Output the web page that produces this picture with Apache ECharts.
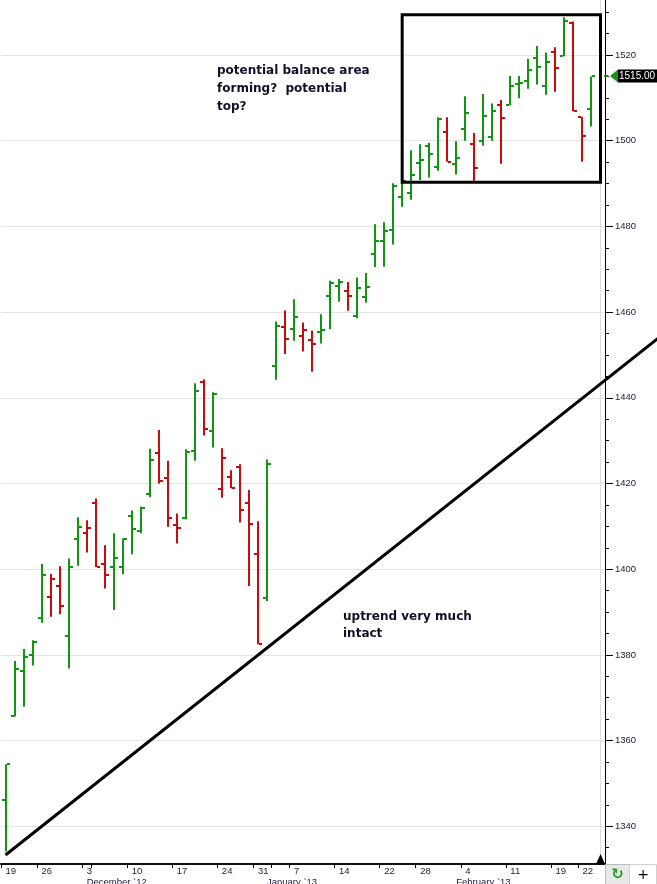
<!DOCTYPE html>
<html>
<head>
<meta charset="utf-8">
<title>ES daily bars</title>
<script src="https://cdn.jsdelivr.net/npm/echarts@6/dist/echarts.min.js"></script>
<style>
html, body { margin: 0; padding: 0; background: #fff; }
#chart { width: 657px; height: 884px; }
</style>
</head>
<body>
<div id="chart"></div>
<script>
// trading days shown on the chart, plus one empty slot on the right
var dates = [
    '2012-11-19','2012-11-20','2012-11-21','2012-11-23',
    '2012-11-26','2012-11-27','2012-11-28','2012-11-29','2012-11-30',
    '2012-12-03','2012-12-04','2012-12-05','2012-12-06','2012-12-07',
    '2012-12-10','2012-12-11','2012-12-12','2012-12-13','2012-12-14',
    '2012-12-17','2012-12-18','2012-12-19','2012-12-20','2012-12-21',
    '2012-12-24','2012-12-26','2012-12-27','2012-12-28',
    '2012-12-31','2013-01-02','2013-01-03','2013-01-04',
    '2013-01-07','2013-01-08','2013-01-09','2013-01-10','2013-01-11',
    '2013-01-14','2013-01-15','2013-01-16','2013-01-17','2013-01-18',
    '2013-01-22','2013-01-23','2013-01-24','2013-01-25',
    '2013-01-28','2013-01-29','2013-01-30','2013-01-31','2013-02-01',
    '2013-02-04','2013-02-05','2013-02-06','2013-02-07','2013-02-08',
    '2013-02-11','2013-02-12','2013-02-13','2013-02-14','2013-02-15',
    '2013-02-19','2013-02-20','2013-02-21','2013-02-22',
    '2013-02-25'
];
var futureSlots = ['2013-02-26'];

var opens = [
    1346.1, 1365.7, 1376.3, 1380.0, 1388.7, 1393.6, 1396.1, 1384.5, 1407.0, 1408.5,
    1415.4, 1401.2, 1400.6, 1400.4, 1412.3, 1408.8, 1417.6, 1427.2, 1421.4, 1410.4,
    1412.0, 1427.7, 1443.8, 1432.3, 1418.8, 1421.6, 1423.9, 1415.5, 1403.5, 1393.3,
    1447.4, 1456.6, 1456.1, 1454.5, 1453.5, 1455.3, 1463.8, 1466.2, 1465.0, 1459.2,
    1463.6, 1473.6, 1476.7, 1479.2, 1486.9, 1487.7, 1494.9, 1498.8, 1493.9, 1502.1,
    1494.6, 1502.7, 1499.3, 1500.0, 1500.9, 1508.4, 1508.3, 1513.2, 1514.0, 1519.4,
    1512.8, 1520.8, 1519.8, 1527.5, 1505.6, 1507.5
];
var highs = [
    1354.5, 1378.6, 1381.4, 1383.4, 1401.2, 1398.9, 1400.7, 1402.5, 1412.1, 1411.4,
    1416.5, 1405.6, 1408.4, 1407.2, 1413.7, 1414.6, 1428.1, 1432.5, 1425.3, 1413.0,
    1428.0, 1443.4, 1444.3, 1441.3, 1428.2, 1423.1, 1424.5, 1418.5, 1411.2, 1425.6,
    1457.8, 1460.4, 1463.0, 1457.6, 1455.7, 1459.5, 1467.3, 1467.7, 1467.0, 1468.1,
    1469.1, 1480.5, 1481.0, 1490.1, 1490.8, 1497.8, 1499.2, 1499.5, 1505.5, 1505.5,
    1499.9, 1510.4, 1501.8, 1510.9, 1508.7, 1509.5, 1515.1, 1515.1, 1519.1, 1522.1,
    1520.6, 1521.8, 1528.8, 1527.8, 1505.6, 1515.0
];
var lows = [
    1334.1, 1365.6, 1367.9, 1377.5, 1387.5, 1388.9, 1389.5, 1376.8, 1400.8, 1403.9,
    1400.5, 1395.5, 1390.5, 1398.8, 1403.5, 1408.4, 1416.8, 1420.0, 1409.9, 1406.0,
    1411.6, 1425.3, 1431.2, 1428.4, 1416.7, 1418.9, 1410.9, 1396.1, 1382.5, 1392.6,
    1444.2, 1450.2, 1453.3, 1450.8, 1446.1, 1452.7, 1456.0, 1462.4, 1460.3, 1458.6,
    1462.2, 1470.5, 1470.6, 1475.8, 1484.6, 1486.2, 1490.8, 1491.4, 1493.0, 1495.1,
    1492.1, 1500.0, 1490.4, 1498.8, 1500.0, 1494.6, 1508.3, 1509.9, 1512.1, 1513.1,
    1510.7, 1511.4, 1519.7, 1506.9, 1495.1, 1503.3
];
var closes = [
    1354.5, 1376.8, 1379.6, 1383.0, 1398.7, 1397.6, 1391.5, 1400.6, 1409.9, 1409.5,
    1400.5, 1398.6, 1402.5, 1407.0, 1409.3, 1414.2, 1425.6, 1420.7, 1412.0, 1409.7,
    1427.4, 1441.7, 1432.7, 1440.9, 1426.0, 1419.0, 1413.7, 1410.6, 1382.5, 1424.6,
    1456.8, 1453.7, 1458.9, 1455.8, 1452.6, 1455.8, 1466.9, 1467.1, 1463.8, 1465.7,
    1465.9, 1476.7, 1479.0, 1489.4, 1490.7, 1492.1, 1495.6, 1496.8, 1505.1, 1495.1,
    1496.0, 1506.5, 1493.7, 1505.8, 1507.0, 1505.4, 1512.8, 1513.5, 1516.5, 1517.3,
    1518.4, 1517.0, 1528.0, 1507.0, 1501.2, 1515.0
];

// bar indexes that carry a day label, and two extra unlabeled ticks
var labelDays = [0, 4, 9, 14, 19, 24, 28, 32, 37, 42, 46, 51, 56, 61, 64];
var extraTicks = [10, 30];
var monthNames = { '12': 'December `12', '01': 'January `13', '02': 'February `13' };

var priceLevels = [1340, 1360, 1380, 1400, 1420, 1440, 1460, 1480, 1500, 1520];
var minorLevels = [1335, 1340, 1345, 1350, 1355, 1360, 1365, 1370, 1375, 1380, 1385, 1390, 1395,
    1400, 1405, 1410, 1415, 1420, 1425, 1430, 1435, 1440, 1445, 1450, 1455, 1460, 1465, 1470,
    1475, 1480, 1485, 1490, 1495, 1500, 1505, 1510, 1515, 1520, 1525, 1530];
var yMin = 1331.2, yMax = 1532.84;

// drawn annotations, in [bar index, price]
var trendLine = [[0, 1333.3], [72.5, 1454.9]];
var balanceBox = [[43.57, 1529.4], [66.24, 1490.3]];
var nowIndex = 65.5;

var UP = '#129612', DOWN = '#c80c0c', NAVY = '#1c1c3a';
var categories = dates.concat(futureSlots);

var monthStart = {};
for (var m = 1; m < dates.length; m++) {
    if (dates[m].slice(5, 7) != dates[m - 1].slice(5, 7)) monthStart[m] = monthNames[dates[m].slice(5, 7)];
}

var bars = [];
for (var i = 0; i < dates.length; i++) {
    var up = (i == 0 || closes[i] >= closes[i - 1]) ? 1 : 0;
    bars.push([i, opens[i], closes[i], lows[i], highs[i], up]);
}

function renderBar(params, api) {
    var idx = api.value(0);
    var x = Math.round(api.coord([idx, yMin])[0]);
    var yo = Math.round(api.coord([idx, api.value(1)])[1]);
    var yc = Math.round(api.coord([idx, api.value(2)])[1]);
    var yl = api.coord([idx, api.value(3)])[1];
    var yh = api.coord([idx, api.value(4)])[1];
    var color = api.value(5) ? UP : DOWN;
    return {
        type: 'group',
        children: [
            { type: 'rect', shape: { x: x - 1, y: yh, width: 2, height: Math.max(yl - yh, 1) }, style: { fill: color } },
            { type: 'rect', shape: { x: x - 4, y: yo - 1, width: 3, height: 2 }, style: { fill: color } },
            { type: 'rect', shape: { x: x + 1, y: yc - 1, width: 3, height: 2 }, style: { fill: color } }
        ]
    };
}

function renderNotes(params, api) {
    var p0 = api.coord(trendLine[0]), p1 = api.coord(trendLine[1]);
    var b0 = api.coord(balanceBox[0]), b1 = api.coord(balanceBox[1]);
    var top = api.coord([nowIndex, yMax]), bot = api.coord([nowIndex, yMin]);
    var nx = Math.round(top[0]) + 0.5;
    var last = closes[closes.length - 1];
    var edge = api.coord([categories.length - 0.5, last]);
    var ex = Math.round(edge[0]), ey = Math.round(edge[1]);
    return {
        type: 'group',
        children: [
            { type: 'line', shape: { x1: nx, y1: top[1], x2: nx, y2: bot[1] }, style: { stroke: '#dedede', lineWidth: 1 } },
            { type: 'polygon', shape: { points: [[nx, bot[1] - 10], [nx - 4.5, bot[1]], [nx + 4.5, bot[1]]] }, style: { fill: '#000' } },
            { type: 'polyline', shape: { points: [p0, p1] }, style: { stroke: '#000', lineWidth: 3, fill: null } },
            { type: 'rect', shape: { x: b0[0], y: b0[1], width: b1[0] - b0[0], height: b1[1] - b0[1] },
              style: { stroke: '#000', lineWidth: 3, fill: null } },
            // last price marker on the axis
            { type: 'rect', shape: { x: ex - 6, y: ey - 1, width: 4, height: 2 }, style: { fill: UP } },
            { type: 'polygon', shape: { points: [[ex, ey], [ex + 8, ey - 6.5], [ex + 8, ey + 6.5]] }, style: { fill: UP } },
            { type: 'rect', shape: { x: ex + 8, y: ey - 6.5, width: 52, height: 13 }, style: { fill: '#000' } },
            { type: 'text', style: { text: last.toFixed(2), x: ex + 9, y: ey + 0.5, fill: '#fff',
              font: '10px "Liberation Sans"', align: 'left', verticalAlign: 'middle',
              textAlign: 'left', textVerticalAlign: 'middle' } }
        ]
    };
}

function noteText(str, x, y) {
    return {
        type: 'text', x: x, y: y, z: 20,
        style: { text: str, font: 'bold 12px "DejaVu Sans"', fill: '#10102a',
                 align: 'left', verticalAlign: 'middle', textAlign: 'left', textVerticalAlign: 'middle' }
    };
}

var chart = echarts.init(document.getElementById('chart'));
var option = {
    animation: false,
    backgroundColor: '#fff',
    grid: { left: 1, right: 52, top: 0, bottom: 20, containLabel: false, outerBoundsMode: 'none' },
    xAxis: {
        type: 'category',
        data: categories,
        boundaryGap: true,
        axisLine: { show: true, lineStyle: { color: '#111', width: 2 } },
        axisTick: {
            show: true, length: 4, alignWithLabel: false,
            lineStyle: { color: '#000' },
            interval: function (index) {
                return labelDays.indexOf(index) >= 0 || extraTicks.indexOf(index) >= 0;
            }
        },
        axisLabel: {
            margin: 2,
            align: 'left',
            verticalAlign: 'top',
            color: NAVY,
            fontFamily: 'Liberation Sans',
            fontSize: 9.5,
            lineHeight: 11,
            interval: function (index) {
                return labelDays.indexOf(index) >= 0 || monthStart[index] != null;
            },
            formatter: function (value, index) {
                var day = labelDays.indexOf(index) >= 0 ? String(parseInt(value.slice(8), 10)) : ' ';
                if (monthStart[index]) return day + '\n{m|' + monthStart[index] + '}';
                return day;
            },
            rich: {
                m: { fontFamily: 'Liberation Sans', fontSize: 9.5, lineHeight: 10, color: NAVY }
            }
        },
        splitLine: { show: false }
    },
    yAxis: [{
        type: 'value',
        position: 'right',
        min: yMin,
        max: yMax,
        splitNumber: 10,
        axisLine: { show: true, lineStyle: { color: '#000', width: 1 } },
        axisTick: { show: true, length: 4, customValues: minorLevels, lineStyle: { color: '#000' } },
        axisLabel: {
            customValues: priceLevels,
            margin: 10,
            verticalAlign: 'middle',
            padding: [0, 0, 5, 0],
            color: NAVY,
            fontFamily: 'Liberation Sans',
            fontSize: 9.5,
            lineHeight: 10,
            formatter: function (v) { return String(v); }
        },
        splitLine: { show: false }
    }, {
        type: 'value',
        position: 'right',
        min: yMin,
        max: yMax,
        splitNumber: 10,
        axisLine: { show: false },
        axisTick: { show: true, length: 8, customValues: priceLevels, lineStyle: { color: '#000' } },
        axisLabel: { show: false },
        splitLine: { show: true, lineStyle: { color: '#e4e4e4', width: 1 } }
    }],
    series: [{
        name: 'ES',
        type: 'custom',
        renderItem: renderBar,
        data: bars,
        encode: { x: 0, y: [1, 2, 3, 4] },
        clip: false,
        z: 3
    }, {
        name: 'notes',
        type: 'custom',
        renderItem: renderNotes,
        data: [[0, 1400]],
        encode: { x: 0, y: 1 },
        clip: false,
        silent: true,
        z: 5
    }],
    graphic: [
        noteText('potential balance area', 217, 70.4),
        noteText('forming?  potential', 217, 88.7),
        noteText('top?', 217, 107),
        noteText('uptrend very much', 343, 616.4),
        noteText('intact', 343, 634.1),
        { type: 'rect', shape: { x: 605.5, y: 864.5, width: 24, height: 20 }, style: { fill: '#e8e8e8', stroke: '#bcbcbc' }, z: 20 },
        { type: 'text', x: 617.5, y: 875, z: 21,
          style: { text: '\u21bb', font: 'bold 15px "DejaVu Sans"', fill: '#2a9a2a', align: 'center', verticalAlign: 'middle',
                   textAlign: 'center', textVerticalAlign: 'middle' } },
        { type: 'rect', shape: { x: 629.5, y: 864.5, width: 27, height: 20 }, style: { fill: '#fff', stroke: '#d0d0d0' }, z: 20 },
        { type: 'text', x: 643, y: 875, z: 21,
          style: { text: '+', font: '14px "DejaVu Sans"', fill: '#000', align: 'center', verticalAlign: 'middle',
                   textAlign: 'center', textVerticalAlign: 'middle' } }
    ]
};
chart.setOption(option);
</script>
</body>
</html>
